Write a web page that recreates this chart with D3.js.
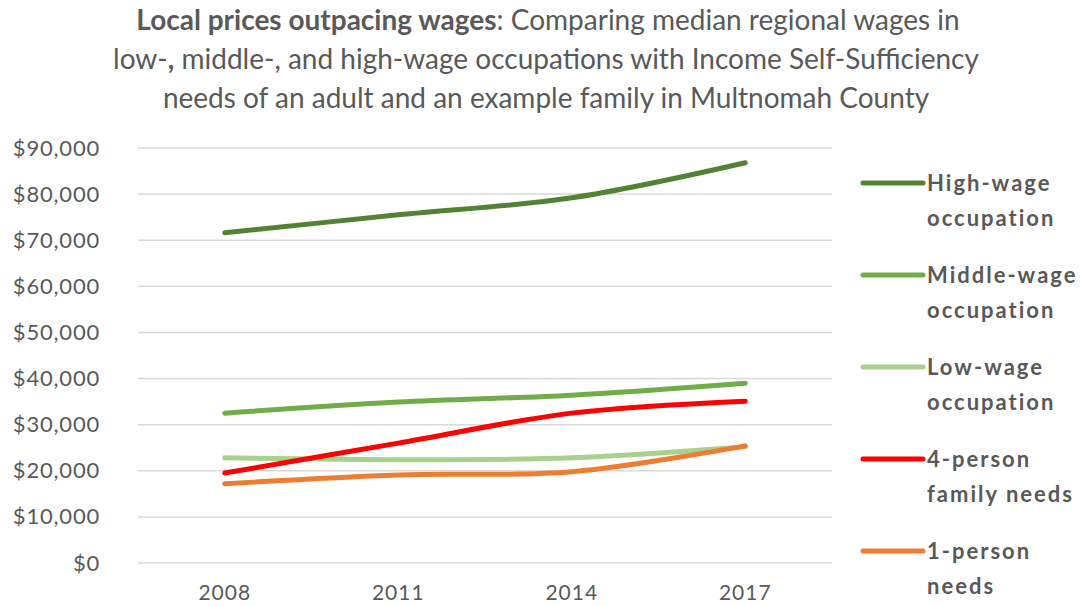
<!DOCTYPE html>
<html>
<head>
<meta charset="utf-8">
<script src="https://cdn.jsdelivr.net/npm/d3@7"></script>
<style>
  body { margin: 0; background: #fff; }
  text { font-family: Lato, "Open Sans", sans-serif; fill: #595959; }
</style>
</head>
<body>
<svg class="chart" width="1084" height="606"></svg>
<script>
const years = ["2008", "2011", "2014", "2017"];
const yTicks = [0, 10000, 20000, 30000, 40000, 50000, 60000, 70000, 80000, 90000];

// values
const highWage = [71600, 75500, 79200, 86800];
const middleWage = [32500, 34900, 36400, 39000];
const lowWage = [22800, 22400, 22800, 25200];
const familyNeeds = [19500, 26000, 32500, 35100];
const singleNeeds = [17200, 19100, 19800, 25400];

const seriesNames = [["High-wage", "occupation"], ["Middle-wage", "occupation"], ["Low-wage", "occupation"], ["4-person", "family needs"], ["1-person", "needs"]];
const seriesColors = ["#548235", "#70ad47", "#a9d18e", "#ff0000", "#ed7d31"];
const allSeries = [highWage, middleWage, lowWage, familyNeeds, singleNeeds];

const svg = d3.select("svg.chart");

const plot = {left: 138, right: 832, top: 148, bottom: 563};

const x = d3.scaleBand()
    .domain(years)
    .range([plot.left, plot.right]);

const y = d3.scaleLinear()
    .domain([0, 90000])
    .range([plot.bottom, plot.top]);

// title
const title = svg.append("text")
    .attr("text-anchor", "middle")
    .style("font-size", "28px");

const line1 = title.append("tspan").attr("x", 548).attr("y", 30);
line1.append("tspan").style("font-weight", "bold").text("Local prices outpacing wages");
line1.append("tspan").text(": Comparing median regional wages in");

const line2 = title.append("tspan").attr("x", 546).attr("y", 69);
line2.append("tspan").text("low-");
line2.append("tspan").style("font-weight", "bold").text(",");
line2.append("tspan").text(" middle-, and high-wage occupations with Income Self-Sufficiency");

title.append("tspan").attr("x", 546).attr("y", 108)
    .text("needs of an adult and an example family in Multnomah County");

// gridlines
svg.append("g")
    .selectAll("line")
    .data(yTicks)
    .enter()
    .append("line")
    .attr("x1", plot.left)
    .attr("x2", plot.right)
    .attr("y1", d => y(d))
    .attr("y2", d => y(d))
    .style("stroke", "#d9d9d9")
    .style("stroke-width", 1.5);

// y axis
const yAxis = svg.append("g")
    .attr("transform", `translate(${plot.left}, 0)`)
    .call(d3.axisLeft(y).tickValues(yTicks).tickSize(0).tickPadding(38)
        .tickFormat(d => "$" + d3.format(",")(d)));
yAxis.select(".domain").remove();
yAxis.selectAll("text")
    .style("font-size", "22px")
    .style("letter-spacing", "0.8px")
    .style("fill", "#595959")
    .style("font-family", "Lato, sans-serif");

// x axis
const xAxis = svg.append("g")
    .attr("transform", `translate(0, ${plot.bottom})`)
    .call(d3.axisBottom(x).tickSize(0).tickPadding(22));
xAxis.select(".domain").remove();
xAxis.selectAll("text")
    .style("font-size", "21px")
    .style("letter-spacing", "1px")
    .style("fill", "#595959")
    .style("font-family", "Lato, sans-serif");

// lines
const lineGen = d3.line()
    .x((d, i) => x(years[i]) + x.bandwidth() / 2)
    .y(d => y(d))
    .curve(d3.curveCatmullRom);

// drawn bottom-up so the dark green sits on top like the reference
const drawOrder = [2, 4, 3, 1, 0];
drawOrder.forEach(i => {
    svg.append("path")
        .datum(allSeries[i])
        .attr("d", lineGen)
        .style("fill", "none")
        .style("stroke", seriesColors[i])
        .style("stroke-width", 5)
        .style("stroke-linecap", "round")
        .style("stroke-linejoin", "round");
});

// legend
const legend = svg.append("g")
    .selectAll("g.legend-item")
    .data(seriesNames)
    .enter()
    .append("g")
    .attr("class", "legend-item")
    .attr("transform", (d, i) => `translate(863, ${183 + i * 92})`);

legend.append("line")
    .attr("x1", 0)
    .attr("x2", 60)
    .style("stroke", (d, i) => seriesColors[i])
    .style("stroke-width", 5)
    .style("stroke-linecap", "round");

legend.append("text")
    .attr("x", 64)
    .attr("y", 8)
    .style("font-size", "22px")
    .style("letter-spacing", "2px")
    .style("font-weight", "bold")
    .text(d => d[0]);

legend.append("text")
    .attr("x", 64)
    .attr("y", 43)
    .style("font-size", "22px")
    .style("letter-spacing", "2px")
    .style("font-weight", "bold")
    .text(d => d[1]);
</script>
</body>
</html>
